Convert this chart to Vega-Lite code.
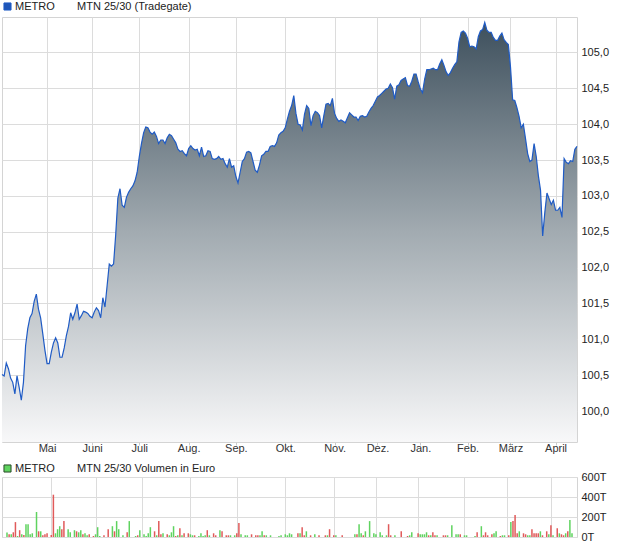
{
  "$schema": "https://vega.github.io/schema/vega-lite/v6.json",
  "background": "white",
  "padding": {"left": -1, "top": 0, "right": 0, "bottom": 0},
  "autosize": {"type": "pad"},
  "config": {
    "font": "Liberation Sans",
    "view": {"stroke": "#d4d4d4", "strokeWidth": 1},
    "axis": {"labelFont": "Liberation Sans", "labelFontSize": 11, "labelColor": "#222222", "gridColor": "#dcdcdc", "gridWidth": 1, "domain": false, "title": null},
    "legend": {"labelFont": "Liberation Sans", "titleFont": "Liberation Sans", "labelFontSize": 11, "titleFontSize": 11, "titleFontWeight": "normal", "labelColor": "#222222", "titleColor": "#222222", "padding": 0}
  },
  "datasets": {
    "price": [
      {"d":0,"p":100.51},{"d":1,"p":100.49},{"d":2,"p":100.67},{"d":3,"p":100.59},{"d":4,"p":100.46},{"d":5,"p":100.40},{"d":6,"p":100.24},{"d":7,"p":100.49},{"d":8,"p":100.33},{"d":9,"p":100.15},
      {"d":10,"p":100.40},{"d":11,"p":100.91},{"d":12,"p":101.15},{"d":13,"p":101.30},{"d":14,"p":101.36},{"d":15,"p":101.53},{"d":16,"p":101.63},{"d":17,"p":101.42},{"d":18,"p":101.30},{"d":19,"p":101.08},
      {"d":20,"p":100.85},{"d":21,"p":100.66},{"d":22,"p":100.66},{"d":23,"p":100.82},{"d":24,"p":100.95},{"d":25,"p":101.02},{"d":26,"p":100.95},{"d":27,"p":100.75},{"d":28,"p":100.75},{"d":29,"p":100.88},
      {"d":30,"p":101.05},{"d":31,"p":101.18},{"d":32,"p":101.37},{"d":33,"p":101.28},{"d":34,"p":101.37},{"d":35,"p":101.49},{"d":36,"p":101.28},{"d":37,"p":101.33},{"d":38,"p":101.39},{"d":39,"p":101.38},
      {"d":40,"p":101.36},{"d":41,"p":101.32},{"d":42,"p":101.30},{"d":43,"p":101.38},{"d":44,"p":101.44},{"d":45,"p":101.40},{"d":46,"p":101.30},{"d":47,"p":101.58},{"d":48,"p":101.45},{"d":49,"p":101.75},
      {"d":50,"p":102.05},{"d":51,"p":102.02},{"d":52,"p":102.05},{"d":53,"p":102.46},{"d":54,"p":102.97},{"d":55,"p":103.10},{"d":56,"p":102.87},{"d":57,"p":102.84},{"d":58,"p":102.98},{"d":59,"p":103.05},
      {"d":60,"p":103.10},{"d":61,"p":103.14},{"d":62,"p":103.21},{"d":63,"p":103.33},{"d":64,"p":103.55},{"d":65,"p":103.73},{"d":66,"p":103.88},{"d":67,"p":103.96},{"d":68,"p":103.95},{"d":69,"p":103.89},
      {"d":70,"p":103.86},{"d":71,"p":103.89},{"d":72,"p":103.83},{"d":73,"p":103.73},{"d":74,"p":103.78},{"d":75,"p":103.78},{"d":76,"p":103.73},{"d":77,"p":103.81},{"d":78,"p":103.86},{"d":79,"p":103.84},
      {"d":80,"p":103.79},{"d":81,"p":103.74},{"d":82,"p":103.65},{"d":83,"p":103.62},{"d":84,"p":103.63},{"d":85,"p":103.59},{"d":86,"p":103.56},{"d":87,"p":103.66},{"d":88,"p":103.70},{"d":89,"p":103.66},
      {"d":90,"p":103.64},{"d":91,"p":103.65},{"d":92,"p":103.56},{"d":93,"p":103.68},{"d":94,"p":103.55},{"d":95,"p":103.56},{"d":96,"p":103.63},{"d":97,"p":103.62},{"d":98,"p":103.52},{"d":99,"p":103.51},
      {"d":100,"p":103.52},{"d":101,"p":103.55},{"d":102,"p":103.51},{"d":103,"p":103.52},{"d":104,"p":103.45},{"d":105,"p":103.40},{"d":106,"p":103.52},{"d":107,"p":103.40},{"d":108,"p":103.42},{"d":109,"p":103.27},
      {"d":110,"p":103.18},{"d":111,"p":103.33},{"d":112,"p":103.48},{"d":113,"p":103.52},{"d":114,"p":103.61},{"d":115,"p":103.62},{"d":116,"p":103.60},{"d":117,"p":103.48},{"d":118,"p":103.36},{"d":119,"p":103.33},
      {"d":120,"p":103.43},{"d":121,"p":103.56},{"d":122,"p":103.58},{"d":123,"p":103.62},{"d":124,"p":103.62},{"d":125,"p":103.69},{"d":126,"p":103.70},{"d":127,"p":103.69},{"d":128,"p":103.74},{"d":129,"p":103.85},
      {"d":130,"p":103.88},{"d":131,"p":103.90},{"d":132,"p":103.95},{"d":133,"p":104.07},{"d":134,"p":104.18},{"d":135,"p":104.26},{"d":136,"p":104.40},{"d":137,"p":104.15},{"d":138,"p":104.00},{"d":139,"p":103.99},
      {"d":140,"p":103.92},{"d":141,"p":104.14},{"d":142,"p":104.26},{"d":143,"p":104.22},{"d":144,"p":103.98},{"d":145,"p":104.12},{"d":146,"p":104.18},{"d":147,"p":104.16},{"d":148,"p":104.12},{"d":149,"p":103.95},
      {"d":150,"p":104.12},{"d":151,"p":104.28},{"d":152,"p":104.29},{"d":153,"p":104.26},{"d":154,"p":104.36},{"d":155,"p":104.15},{"d":156,"p":104.08},{"d":157,"p":104.04},{"d":158,"p":104.06},{"d":159,"p":104.04},
      {"d":160,"p":104.02},{"d":161,"p":104.09},{"d":162,"p":104.16},{"d":163,"p":104.13},{"d":164,"p":104.10},{"d":165,"p":104.10},{"d":166,"p":104.05},{"d":167,"p":104.11},{"d":168,"p":104.12},{"d":169,"p":104.10},
      {"d":170,"p":104.11},{"d":171,"p":104.17},{"d":172,"p":104.22},{"d":173,"p":104.26},{"d":174,"p":104.32},{"d":175,"p":104.38},{"d":176,"p":104.40},{"d":177,"p":104.43},{"d":178,"p":104.46},{"d":179,"p":104.49},
      {"d":180,"p":104.50},{"d":181,"p":104.56},{"d":182,"p":104.51},{"d":183,"p":104.35},{"d":184,"p":104.53},{"d":185,"p":104.55},{"d":186,"p":104.61},{"d":187,"p":104.63},{"d":188,"p":104.65},{"d":189,"p":104.54},
      {"d":190,"p":104.53},{"d":191,"p":104.60},{"d":192,"p":104.70},{"d":193,"p":104.70},{"d":194,"p":104.59},{"d":195,"p":104.49},{"d":196,"p":104.44},{"d":197,"p":104.63},{"d":198,"p":104.76},{"d":199,"p":104.76},
      {"d":200,"p":104.77},{"d":201,"p":104.78},{"d":202,"p":104.76},{"d":203,"p":104.76},{"d":204,"p":104.84},{"d":205,"p":104.90},{"d":206,"p":104.82},{"d":207,"p":104.73},{"d":208,"p":104.68},{"d":209,"p":104.72},
      {"d":210,"p":104.78},{"d":211,"p":104.83},{"d":212,"p":104.87},{"d":213,"p":105.15},{"d":214,"p":105.28},{"d":215,"p":105.30},{"d":216,"p":105.27},{"d":217,"p":105.20},{"d":218,"p":105.08},{"d":219,"p":105.09},
      {"d":220,"p":105.08},{"d":221,"p":105.05},{"d":222,"p":105.22},{"d":223,"p":105.30},{"d":224,"p":105.32},{"d":225,"p":105.42},{"d":226,"p":105.31},{"d":227,"p":105.28},{"d":228,"p":105.28},{"d":229,"p":105.21},
      {"d":230,"p":105.17},{"d":231,"p":105.17},{"d":232,"p":105.23},{"d":233,"p":105.27},{"d":234,"p":105.18},{"d":235,"p":105.14},{"d":236,"p":105.11},{"d":237,"p":104.80},{"d":238,"p":104.34},{"d":239,"p":104.33},
      {"d":240,"p":104.23},{"d":241,"p":104.11},{"d":242,"p":103.95},{"d":243,"p":104.00},{"d":244,"p":103.80},{"d":245,"p":103.59},{"d":246,"p":103.48},{"d":247,"p":103.50},{"d":248,"p":103.73},{"d":249,"p":103.55},
      {"d":250,"p":103.28},{"d":251,"p":103.08},{"d":252,"p":102.44},{"d":253,"p":102.77},{"d":254,"p":103.04},{"d":255,"p":102.96},{"d":256,"p":102.88},{"d":257,"p":102.94},{"d":258,"p":102.80},{"d":259,"p":102.80},
      {"d":260,"p":102.84},{"d":261,"p":102.70},{"d":262,"p":103.52},{"d":263,"p":103.47},{"d":264,"p":103.45},{"d":265,"p":103.49},{"d":266,"p":103.48},{"d":267,"p":103.65},{"d":268,"p":103.69}
    ],
    "vol": [
      {"d":0,"v":44000,"dir":"up"},{"d":1,"v":27000,"dir":"down"},{"d":2,"v":27000,"dir":"up"},{"d":3,"v":47000,"dir":"down"},{"d":4,"v":149000,"dir":"down"},{"d":5,"v":10000,"dir":"up"},{"d":6,"v":68000,"dir":"down"},{"d":7,"v":27000,"dir":"up"},{"d":8,"v":20000,"dir":"down"},{"d":9,"v":128000,"dir":"up"},
      {"d":10,"v":128000,"dir":"up"},{"d":11,"v":27000,"dir":"up"},{"d":12,"v":37000,"dir":"up"},{"d":14,"v":250000,"dir":"up"},{"d":15,"v":57000,"dir":"down"},{"d":16,"v":57000,"dir":"up"},{"d":17,"v":17000,"dir":"down"},{"d":18,"v":27000,"dir":"down"},{"d":19,"v":37000,"dir":"down"},
      {"d":21,"v":20000,"dir":"down"},{"d":22,"v":423000,"dir":"down"},{"d":23,"v":37000,"dir":"up"},{"d":24,"v":78000,"dir":"up"},{"d":25,"v":108000,"dir":"up"},{"d":26,"v":78000,"dir":"down"},{"d":27,"v":159000,"dir":"down"},{"d":29,"v":78000,"dir":"up"},
      {"d":30,"v":47000,"dir":"up"},{"d":32,"v":68000,"dir":"up"},{"d":33,"v":57000,"dir":"down"},{"d":34,"v":47000,"dir":"up"},{"d":35,"v":68000,"dir":"up"},{"d":36,"v":27000,"dir":"down"},{"d":37,"v":37000,"dir":"up"},{"d":38,"v":17000,"dir":"up"},{"d":39,"v":27000,"dir":"down"},
      {"d":41,"v":10000,"dir":"down"},{"d":42,"v":27000,"dir":"up"},{"d":43,"v":98000,"dir":"up"},{"d":44,"v":10000,"dir":"up"},{"d":46,"v":17000,"dir":"down"},{"d":48,"v":78000,"dir":"down"},
      {"d":50,"v":108000,"dir":"up"},{"d":51,"v":57000,"dir":"down"},{"d":52,"v":159000,"dir":"up"},{"d":53,"v":78000,"dir":"up"},{"d":55,"v":17000,"dir":"up"},{"d":57,"v":47000,"dir":"down"},{"d":58,"v":159000,"dir":"up"},
      {"d":61,"v":10000,"dir":"up"},{"d":62,"v":17000,"dir":"down"},{"d":63,"v":68000,"dir":"up"},{"d":65,"v":27000,"dir":"up"},{"d":66,"v":10000,"dir":"up"},{"d":67,"v":37000,"dir":"up"},{"d":68,"v":98000,"dir":"up"},
      {"d":70,"v":57000,"dir":"down"},{"d":71,"v":17000,"dir":"up"},{"d":72,"v":159000,"dir":"down"},{"d":73,"v":27000,"dir":"down"},{"d":74,"v":37000,"dir":"up"},{"d":76,"v":27000,"dir":"down"},{"d":77,"v":17000,"dir":"up"},{"d":78,"v":47000,"dir":"up"},{"d":79,"v":108000,"dir":"up"},
      {"d":80,"v":10000,"dir":"down"},{"d":81,"v":17000,"dir":"up"},{"d":82,"v":88000,"dir":"down"},{"d":83,"v":17000,"dir":"up"},{"d":84,"v":37000,"dir":"down"},{"d":86,"v":37000,"dir":"down"},{"d":87,"v":27000,"dir":"up"},{"d":88,"v":17000,"dir":"up"},{"d":89,"v":17000,"dir":"down"},
      {"d":91,"v":10000,"dir":"up"},{"d":92,"v":37000,"dir":"up"},{"d":93,"v":10000,"dir":"up"},{"d":94,"v":17000,"dir":"up"},{"d":95,"v":68000,"dir":"down"},{"d":96,"v":17000,"dir":"up"},{"d":98,"v":37000,"dir":"down"},{"d":99,"v":17000,"dir":"down"},
      {"d":101,"v":68000,"dir":"up"},{"d":102,"v":57000,"dir":"down"},{"d":104,"v":17000,"dir":"down"},{"d":105,"v":17000,"dir":"down"},{"d":106,"v":17000,"dir":"up"},{"d":108,"v":17000,"dir":"up"},{"d":109,"v":37000,"dir":"down"},
      {"d":110,"v":139000,"dir":"down"},{"d":111,"v":27000,"dir":"up"},{"d":113,"v":17000,"dir":"up"},{"d":114,"v":17000,"dir":"up"},{"d":116,"v":27000,"dir":"down"},{"d":118,"v":17000,"dir":"down"},{"d":119,"v":17000,"dir":"down"},
      {"d":120,"v":17000,"dir":"up"},{"d":121,"v":57000,"dir":"up"},{"d":122,"v":17000,"dir":"down"},{"d":123,"v":17000,"dir":"up"},{"d":125,"v":17000,"dir":"up"},{"d":129,"v":10000,"dir":"up"},
      {"d":130,"v":17000,"dir":"up"},{"d":132,"v":27000,"dir":"up"},{"d":133,"v":17000,"dir":"up"},{"d":134,"v":37000,"dir":"up"},{"d":135,"v":27000,"dir":"up"},{"d":138,"v":37000,"dir":"down"},{"d":139,"v":37000,"dir":"up"},
      {"d":140,"v":98000,"dir":"down"},{"d":141,"v":17000,"dir":"down"},{"d":142,"v":57000,"dir":"up"},{"d":144,"v":17000,"dir":"down"},{"d":146,"v":27000,"dir":"up"},{"d":148,"v":17000,"dir":"down"},
      {"d":151,"v":17000,"dir":"down"},{"d":152,"v":17000,"dir":"up"},{"d":153,"v":78000,"dir":"down"},{"d":155,"v":17000,"dir":"down"},{"d":156,"v":17000,"dir":"up"},{"d":159,"v":17000,"dir":"down"},
      {"d":165,"v":27000,"dir":"up"},{"d":166,"v":27000,"dir":"down"},{"d":167,"v":128000,"dir":"up"},{"d":168,"v":37000,"dir":"up"},{"d":169,"v":17000,"dir":"down"},
      {"d":170,"v":57000,"dir":"up"},{"d":172,"v":159000,"dir":"up"},{"d":174,"v":37000,"dir":"up"},{"d":175,"v":27000,"dir":"up"},{"d":177,"v":47000,"dir":"up"},{"d":178,"v":17000,"dir":"up"},
      {"d":180,"v":17000,"dir":"up"},{"d":181,"v":128000,"dir":"down"},{"d":182,"v":17000,"dir":"down"},{"d":184,"v":17000,"dir":"up"},{"d":187,"v":57000,"dir":"down"},
      {"d":190,"v":10000,"dir":"down"},{"d":191,"v":17000,"dir":"up"},{"d":192,"v":47000,"dir":"up"},{"d":195,"v":37000,"dir":"down"},{"d":196,"v":27000,"dir":"up"},{"d":197,"v":27000,"dir":"up"},{"d":198,"v":27000,"dir":"up"},{"d":199,"v":47000,"dir":"up"},
      {"d":200,"v":17000,"dir":"down"},{"d":201,"v":17000,"dir":"up"},{"d":202,"v":47000,"dir":"down"},{"d":203,"v":17000,"dir":"down"},{"d":204,"v":17000,"dir":"up"},{"d":207,"v":17000,"dir":"down"},{"d":208,"v":17000,"dir":"down"},{"d":209,"v":17000,"dir":"up"},
      {"d":211,"v":118000,"dir":"up"},{"d":213,"v":27000,"dir":"up"},{"d":214,"v":27000,"dir":"up"},{"d":215,"v":27000,"dir":"down"},{"d":217,"v":17000,"dir":"up"},{"d":218,"v":17000,"dir":"up"},
      {"d":222,"v":10000,"dir":"up"},{"d":223,"v":47000,"dir":"down"},{"d":225,"v":108000,"dir":"up"},{"d":226,"v":17000,"dir":"down"},{"d":227,"v":47000,"dir":"down"},{"d":228,"v":17000,"dir":"down"},
      {"d":230,"v":27000,"dir":"down"},{"d":231,"v":37000,"dir":"up"},{"d":232,"v":57000,"dir":"up"},{"d":234,"v":10000,"dir":"down"},{"d":235,"v":17000,"dir":"up"},{"d":236,"v":17000,"dir":"up"},{"d":238,"v":17000,"dir":"down"},{"d":239,"v":149000,"dir":"up"},
      {"d":240,"v":159000,"dir":"down"},{"d":241,"v":220000,"dir":"down"},{"d":242,"v":37000,"dir":"down"},{"d":243,"v":57000,"dir":"up"},{"d":245,"v":37000,"dir":"down"},{"d":246,"v":27000,"dir":"down"},{"d":247,"v":17000,"dir":"up"},{"d":248,"v":17000,"dir":"up"},{"d":249,"v":78000,"dir":"down"},
      {"d":250,"v":37000,"dir":"down"},{"d":251,"v":37000,"dir":"down"},{"d":252,"v":37000,"dir":"down"},{"d":253,"v":57000,"dir":"up"},{"d":254,"v":17000,"dir":"down"},{"d":256,"v":57000,"dir":"down"},{"d":257,"v":27000,"dir":"up"},{"d":258,"v":118000,"dir":"down"},{"d":259,"v":17000,"dir":"up"},
      {"d":261,"v":88000,"dir":"down"},{"d":262,"v":37000,"dir":"up"},{"d":263,"v":27000,"dir":"down"},{"d":264,"v":17000,"dir":"down"},{"d":265,"v":37000,"dir":"up"},{"d":266,"v":57000,"dir":"down"},{"d":267,"v":169000,"dir":"up"},{"d":268,"v":37000,"dir":"up"}
    ]
  },
  "spacing": 8,
  "resolve": {"scale": {"color": "independent"}, "legend": {"color": "independent"}},
  "vconcat": [
    {
      "width": 575,
      "height": 425,
      "data": {"name": "price"},
      "encoding": {
        "x": {"field": "d", "type": "quantitative", "scale": {"domain": [0, 268], "nice": false, "zero": false},
          "axis": {"values": [21,42,64,87,109,132,155,175,195,217,237,258],
            "labelExpr": "['Mai','Juni','Juli','Aug.','Sep.','Okt.','Nov.','Dez.','Jan.','Feb.','März','April'][indexof([21,42,64,87,109,132,155,175,195,217,237,258], datum.value)]",
            "tickSize": 3, "tickColor": "#cccccc", "labelPadding": -3, "labelColor": "#333333"}},
        "y": {"field": "p", "type": "quantitative", "scale": {"domain": [99.568, 105.495], "nice": false, "zero": false},
          "axis": {"orient": "right", "values": [100,100.5,101,101.5,102,102.5,103,103.5,104,104.5,105],
            "labelExpr": "replace(format(datum.value, '.1f'), '.', ',')", "ticks": false, "labelPadding": 4}}
      },
      "layer": [
        {"mark": {"type": "area", "color": {"gradient": "linear", "x1": 0, "y1": 0, "x2": 0, "y2": 1,
          "stops": [{"offset": 0, "color": "#3e505d"}, {"offset": 0.5, "color": "#a2abb1"}, {"offset": 1, "color": "#f8f8f9"}]}},
          "encoding": {"y2": {"datum": 99.568}}},
        {"mark": {"type": "line", "strokeWidth": 1.2},
          "encoding": {"color": {"datum": "METRO", "type": "nominal", "scale": {"range": ["#1f5bc5"]},
            "legend": {"orient": "none", "legendX": 0, "legendY": -16, "direction": "horizontal",
              "title": "MTN 25/30 (Tradegate)", "titleOrient": "right", "titlePadding": 22,
              "symbolType": "square", "symbolSize": 50, "labelOffset": 2,
              "encode": {"symbols": {"update": {"fill": {"value": "#1f56b8"}, "stroke": {"value": "#1a3570"}, "strokeWidth": {"value": 1}, "opacity": {"value": 1}}}}}}}}
      ]
    },
    {
      "width": 575,
      "height": 60,
      "data": {"name": "vol"},
      "mark": {"type": "bar", "size": 1.5},
      "encoding": {
        "x": {"field": "d", "type": "quantitative", "scale": {"domain": [0, 268], "nice": false, "zero": false},
          "axis": {"values": [21,42,64,87,109,132,155,175,195,217,237,258], "labels": false, "ticks": false}},
        "y": {"field": "v", "type": "quantitative", "scale": {"domain": [0, 600000], "nice": false},
          "axis": {"orient": "right", "values": [0, 200000, 400000, 600000], "labelExpr": "format(datum.value / 1000, 'd') + 'T'", "ticks": false, "labelPadding": 4}},
        "color": {"field": "dir", "type": "nominal", "scale": {"domain": ["up", "down"], "range": ["#5fd35f", "#e05a5a"]},
          "legend": {"orient": "none", "legendX": 0, "legendY": -14, "direction": "horizontal", "values": ["up"], "labelExpr": "'METRO'",
            "title": "MTN 25/30 Volumen in Euro", "titleOrient": "right", "titlePadding": 22,
            "symbolType": "square", "symbolSize": 50, "labelOffset": 2,
            "encode": {"symbols": {"update": {"stroke": {"value": "#2a4a2a"}, "strokeWidth": {"value": 1}, "opacity": {"value": 1}}}}}}
      }
    }
  ]
}
